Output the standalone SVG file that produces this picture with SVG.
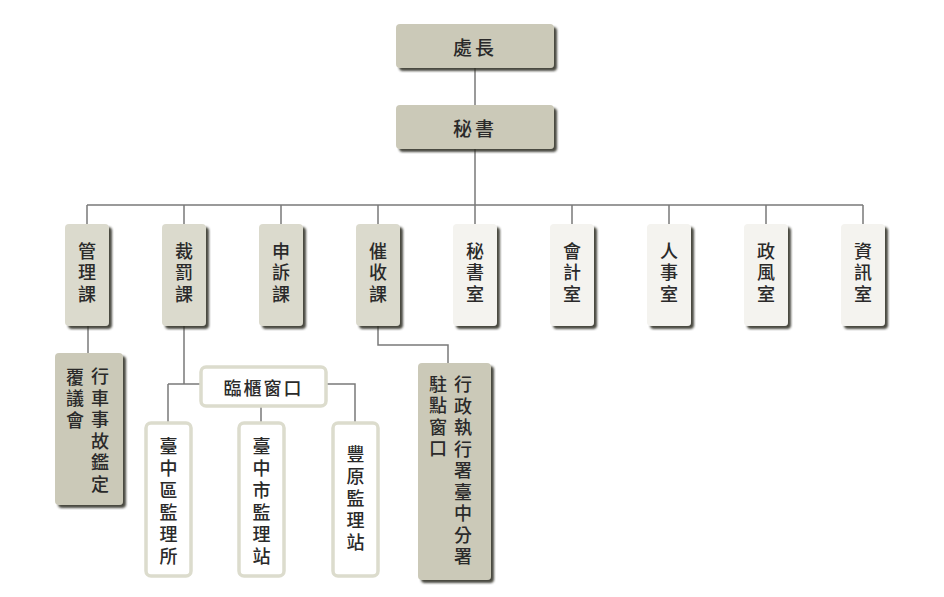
<svg xmlns="http://www.w3.org/2000/svg" width="944" height="597" viewBox="0 0 944 597">
<defs>
<filter id="sh" x="-20%" y="-20%" width="150%" height="150%">
<feDropShadow dx="3" dy="3" stdDeviation="1.3" flood-color="#2a2a22" flood-opacity="0.85"/>
</filter>
<style>
.t{font-family:"Noto Sans CJK TC","Noto Sans CJK SC",sans-serif;font-size:18px;font-weight:500;fill:#2a2a2a;text-anchor:middle;dominant-baseline:central}
.v{writing-mode:vertical-rl;letter-spacing:3.5px}
.v5{letter-spacing:4px}
.dark{fill:#cbc9b8;filter:url(#sh)}
.mid{fill:#dbdacd;filter:url(#sh)}
.lite{fill:#f4f3ef;filter:url(#sh)}
.open{fill:#fff;stroke:#dcdccd;stroke-width:3.5}
.c{fill:none;stroke:#7a7a7a;stroke-width:1.5}
</style>
</defs>
<g id="connectors">
<path class="c" d="M475 68V105M475 149V205M87 205H863M87 205V224M184 205V224M281 205V224M378 205V224M475 205V224M572 205V224M669 205V224M766 205V224M863 205V224"/>
<path class="c" d="M88 326V353"/>
<path class="c" d="M184 326V384M168 384H200M168 384V423M327 384H355V423M261 407V423"/>
<path class="c" d="M378 326V345H448V363"/>
</g>
<g id="n-chief"><rect class="dark" x="396" y="24" width="158" height="44" rx="4"/><text class="t" x="475" y="46" style="font-size:19px;letter-spacing:3px">處長</text></g>
<g id="n-sec"><rect class="dark" x="396" y="105" width="158" height="44" rx="4"/><text class="t" x="475" y="127" style="font-size:19px;letter-spacing:3px">秘書</text></g>
<g id="n-mgmt"><rect class="mid" x="65" y="224" width="44" height="102" rx="4"/><text class="t v" x="87" y="274">管理課</text></g>
<g id="n-penalty"><rect class="mid" x="162" y="224" width="44" height="102" rx="4"/><text class="t v" x="184" y="274">裁罰課</text></g>
<g id="n-appeal"><rect class="mid" x="259" y="224" width="44" height="102" rx="4"/><text class="t v" x="281" y="274">申訴課</text></g>
<g id="n-collect"><rect class="mid" x="356" y="224" width="44" height="102" rx="4"/><text class="t v" x="378" y="274">催收課</text></g>
<g id="n-secroom"><rect class="lite" x="453" y="224" width="44" height="102" rx="4"/><text class="t v" x="475" y="274">秘書室</text></g>
<g id="n-acct"><rect class="lite" x="550" y="224" width="44" height="102" rx="4"/><text class="t v" x="572" y="274">會計室</text></g>
<g id="n-hr"><rect class="lite" x="647" y="224" width="44" height="102" rx="4"/><text class="t v" x="669" y="274">人事室</text></g>
<g id="n-ethics"><rect class="lite" x="744" y="224" width="44" height="102" rx="4"/><text class="t v" x="766" y="274">政風室</text></g>
<g id="n-it"><rect class="lite" x="841" y="224" width="44" height="102" rx="4"/><text class="t v" x="863" y="274">資訊室</text></g>
<g id="n-accident"><rect class="dark" x="55" y="353" width="68" height="152" rx="4"/>
<text class="t v" x="100" y="432">行車事故鑑定</text>
<text class="t v" x="75" y="400">覆議會</text></g>
<g id="n-counter"><rect class="open" x="201" y="367" width="125" height="39" rx="5"/><text class="t" x="263.5" y="387" style="letter-spacing:2px">臨櫃窗口</text></g>
<g id="n-tcdist"><rect class="open" x="146" y="423" width="45" height="153" rx="5"/><text class="t v v5" x="168.5" y="503">臺中區監理所</text></g>
<g id="n-tccity"><rect class="open" x="239" y="423" width="45" height="153" rx="5"/><text class="t v v5" x="261.5" y="503">臺中市監理站</text></g>
<g id="n-fengyuan"><rect class="open" x="333" y="423" width="45" height="153" rx="5"/><text class="t v v5" x="355.5" y="500">豐原監理站</text></g>
<g id="n-enforce"><rect class="dark" x="418" y="363" width="73" height="217" rx="4"/>
<text class="t v" x="463" y="472">行政執行署臺中分署</text>
<text class="t v" x="438" y="418">駐點窗口</text></g>
</svg>
